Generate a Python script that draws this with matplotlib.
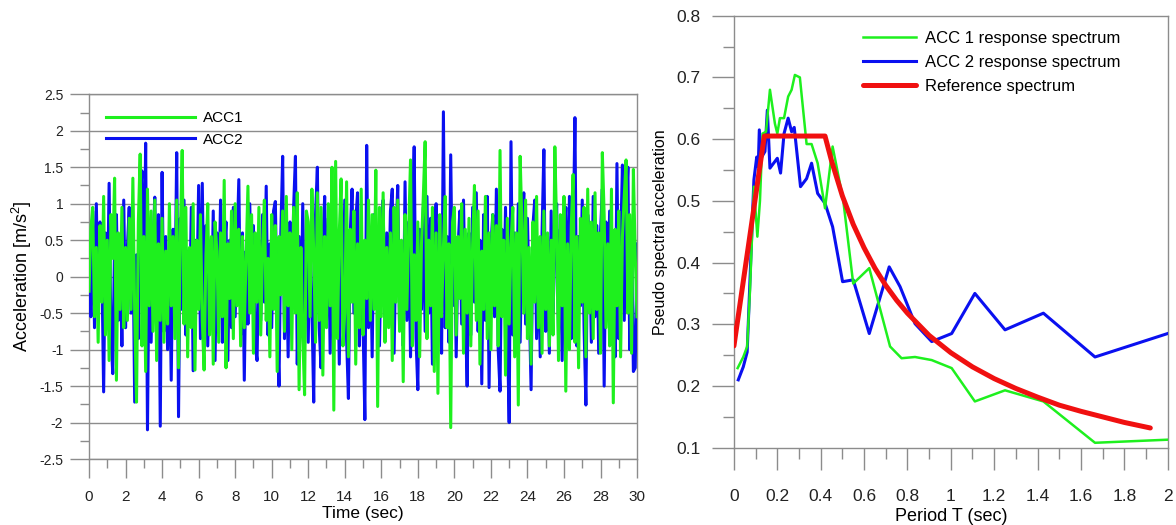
import matplotlib
matplotlib.use('Agg')
import matplotlib.pyplot as plt
import numpy as np
from matplotlib.ticker import MultipleLocator, FuncFormatter

plt.rcParams['font.family'] = ['Liberation Sans', 'DejaVu Sans']
plt.rcParams['mathtext.default'] = 'regular'

# 加速度时程 (dt = 0.1 s)
dt = 0.1
acc1 = [
    -0.20, 0.65, 0.95, -0.55, 0.40, -0.90, 0.70, -0.35, 1.10, -0.80,
    0.50, -1.15, 0.85, 0.25, 1.35, -1.42, 0.60, -0.45, 0.95, -0.70,
    0.40, -0.60, 0.80, -0.45, 1.35, -0.50, -1.72, 0.75, 1.68, -0.95,
    0.55, -1.30, 1.20, -0.40, 0.90, -0.75, 1.05, -1.15, 0.45, -0.60,
    0.80, -0.90, 0.35, -0.65, 1.00, -0.40, 0.55, -0.85, 1.05, -1.25,
    0.60, 1.73, -0.65, 0.95, -1.10, 0.40, -0.70, 1.00, -1.28, 0.50,
    -0.45, 0.85, -0.60, -1.28, 0.30, 1.00, -0.80, 0.55, -1.20, 0.75,
    0.35, -0.90, 0.60, -0.55, 1.32, -1.25, 0.45, -0.30, 0.90, -0.85,
    1.00, -0.40, 0.65, -0.95, 0.55, -0.70, 0.30, 1.24, -0.50, 0.85,
    -1.05, 0.60, -0.35, 0.95, -0.80, 0.40, 1.05, -0.60, 0.25, -1.10,
    0.85, -0.45, 0.70, -1.30, 0.55, -0.25, 0.90, -0.75, 1.10, -0.40,
    0.60, -1.00, 0.95, -0.50, 1.15, -1.55, 0.40, -0.80, -1.62, 0.90,
    0.75, -0.55, 1.20, 0.35, -0.90, 1.15, -0.60, 0.95, -1.35, 0.55,
    -0.70, 1.00, -0.40, 1.50, -1.83, 1.58, -0.85, 0.60, 1.34, -0.95,
    -0.50, 1.30, -1.10, 0.65, -0.35, 0.90, -1.20, 0.45, -0.70, 1.20,
    -0.80, 0.50, -0.30, 1.05, -0.60, 0.85, -0.45, 1.46, -1.78, 0.95,
    -0.55, 1.15, -0.90, 0.40, -0.70, 0.60, -1.15, 0.95, -0.35, 1.05,
    -0.75, 0.50, -1.44, 0.85, -0.45, 0.65, 1.60, -0.95, 0.30, -0.60,
    0.75, -1.10, 0.45, 1.10, 1.85, -0.85, 0.50, -0.40, 0.95, -1.30,
    0.60, -1.60, 0.85, -0.55, 0.40, 1.10, -0.70, 0.45, -2.07, 0.75,
    0.95, -0.80, 0.55, -0.30, 1.00, -1.05, 0.65, -0.50, 0.80, -0.95,
    0.45, 1.25, -0.60, 0.90, -1.20, 0.35, -0.45, 1.10, -0.85, 0.60,
    -1.00, 0.85, -0.40, 0.70, -0.95, 1.73, -0.55, 0.50, -1.35, 0.80,
    -0.65, 0.45, 0.95, -1.10, 0.60, -1.76, 1.65, 0.70, -0.50, 1.05,
    -0.85, 0.40, -1.20, 0.75, -0.35, 1.10, -0.70, 0.55, -1.05, 0.90,
    -0.45, 0.60, -0.95, 0.50, -0.80, 1.78, 0.65, -1.15, 0.85, -0.40,
    1.10, -1.57, 0.45, -1.00, 0.70, 1.40, -0.90, 0.55, -1.25, 0.80,
    -0.35, 0.95, -1.10, 1.20, -0.50, 0.75, -0.85, 1.15, -0.45, 0.60,
    -1.05, 1.70, 0.85, -0.70, 0.45, -0.95, 1.20, -1.73, 0.65, -0.40,
    0.90, -1.10, 0.55, 1.10, 1.60, -0.50, 0.85, -1.05, 1.47, 0.30, -0.55,
]
acc2 = [
    0.10, -0.55, 0.90, -0.70, 1.00, -0.40, 0.75, 0.20, -1.58, 0.60,
    -0.45, 1.28, -0.80, -1.33, 0.50, 0.85, -0.60, 0.30, -0.95, 1.05,
    -0.70, 0.40, 0.95, -0.50, 0.60, -1.72, 0.30, -0.85, 1.00, 1.45,
    -0.60, 1.83, -2.10, 0.70, -0.90, 0.40, 1.09, -0.50, 0.85, -2.05,
    1.43, -0.75, 0.55, -1.00, 0.30, -1.42, 0.65, -0.40, 1.70, -1.92,
    0.80, -0.45, 1.05, -0.80, 0.35, -0.60, 0.95, -1.29, 0.50, -0.30,
    1.25, -0.85, 1.28, -0.55, 0.70, -0.95, 0.40, -0.65, 0.90, -1.15,
    0.60, -0.40, 1.05, -0.90, 0.30, 0.75, -1.15, 0.50, -0.70, 0.95,
    -0.55, 0.40, 1.33, -0.80, 0.60, -1.42, 0.35, -0.65, 1.00, -0.45,
    0.70, -0.95, -1.15, 0.50, -0.60, 0.85, -0.35, 1.24, -0.80, 0.45,
    -0.70, 0.90, 1.03, -0.55, -1.50, 0.60, 1.65, -0.85, 0.40, -1.10,
    0.75, -0.45, 0.95, 1.65, -1.20, 0.55, -0.80, 1.00, -0.60, 0.35,
    -0.90, 0.65, -0.40, -1.72, 0.85, 1.50, -0.70, -1.25, 0.45, 1.10,
    -0.60, 0.80, -1.05, 0.35, 0.95, -0.75, 0.50, -1.20, 0.70, -0.45,
    1.05, -0.85, -1.67, 0.60, 1.20, -0.50, 0.75, 1.15, -0.95, 0.40,
    -0.65, -1.96, 1.80, -0.70, 0.55, -1.10, 0.85, -0.40, 0.65, -0.95,
    0.45, 1.05, -0.80, 0.60, -0.35, 0.90, 1.20, -1.05, 0.50, 1.25,
    -0.70, 0.40, -0.95, 1.30, -0.60, 0.75, -1.10, 0.55, 1.78, -0.85,
    -1.55, 0.65, -0.45, 0.95, -0.75, 1.10, -0.50, 0.80, -1.20, 0.35,
    1.00, -0.60, 0.45, -1.05, 2.26, -0.70, 0.55, -0.90, 1.67, -0.40,
    0.75, -1.10, 0.40, 0.90, -0.65, 1.05, -0.45, -1.50, 0.60, -0.80,
    0.95, -0.35, 1.15, -0.75, 0.50, -1.47, 0.85, -0.60, 1.10, -1.52,
    0.40, 0.85, -0.55, 1.20, -1.00, -1.57, 0.65, -0.40, 0.95, -0.70,
    -2.00, 1.85, -0.80, 0.60, -0.45, 1.00, -0.90, 0.50, 1.15, -0.65,
    0.80, -0.40, -1.55, 0.70, 1.05, -0.85, 0.45, -1.10, 0.60, 1.74,
    -0.75, 0.55, -1.05, 0.90, -0.50, 0.35, 1.00, -0.80, 0.65, -1.15,
    0.50, 0.95, -0.60, 1.10, -0.85, 0.40, 2.18, -0.95, 0.55, -0.40,
    1.05, -0.70, -1.76, 0.85, 0.45, -0.90, 1.10, -0.55, 0.70, -1.05,
    0.60, 1.20, -1.50, 0.75, -0.45, 0.90, -0.70, 0.50, -1.10, 1.55,
    -0.85, 0.40, 1.53, -0.60, 0.90, 1.50, -1.00, 0.55, -1.30, -1.25, 0.45,
]

# 反应谱
T1 = [0.017, 0.043, 0.061, 0.074, 0.092, 0.108, 0.120, 0.132, 0.148, 0.166,
      0.189, 0.200, 0.212, 0.231, 0.250, 0.266, 0.281, 0.304, 0.335, 0.358,
      0.386, 0.420, 0.455, 0.504, 0.550, 0.624, 0.720, 0.773, 0.835, 0.912,
      1.004, 1.111, 1.250, 1.427, 1.665, 2.000]
Sa1 = [0.229, 0.247, 0.264, 0.355, 0.523, 0.442, 0.500, 0.609, 0.612, 0.680,
       0.625, 0.609, 0.634, 0.634, 0.669, 0.680, 0.704, 0.700, 0.592, 0.592,
       0.561, 0.488, 0.588, 0.501, 0.366, 0.391, 0.264, 0.245, 0.247, 0.242,
       0.229, 0.175, 0.193, 0.175, 0.108, 0.113]
T2 = [0.020, 0.043, 0.061, 0.092, 0.105, 0.112, 0.117, 0.128, 0.143, 0.154,
      0.166, 0.200, 0.215, 0.231, 0.250, 0.266, 0.278, 0.307, 0.335, 0.358,
      0.386, 0.420, 0.455, 0.501, 0.550, 0.624, 0.716, 0.766, 0.835, 0.912,
      1.004, 1.111, 1.250, 1.427, 1.665, 2.000]
Sa2 = [0.210, 0.231, 0.255, 0.534, 0.571, 0.555, 0.615, 0.571, 0.580, 0.647,
       0.553, 0.569, 0.545, 0.609, 0.634, 0.612, 0.619, 0.523, 0.536, 0.561,
       0.512, 0.496, 0.458, 0.369, 0.372, 0.285, 0.393, 0.361, 0.301, 0.272,
       0.285, 0.350, 0.291, 0.318, 0.247, 0.285]
T_ref = [0.0, 0.14, 0.42, 0.45, 0.50, 0.55, 0.60, 0.65, 0.70, 0.75, 0.80, 0.90,
         1.00, 1.10, 1.20, 1.30, 1.40, 1.50, 1.60, 1.70, 1.80, 1.92]
Sa_ref = [0.265, 0.605, 0.605, 0.565, 0.508, 0.462, 0.424, 0.391, 0.363, 0.339,
          0.318, 0.282, 0.254, 0.231, 0.212, 0.196, 0.182, 0.169, 0.159, 0.150,
          0.141, 0.132]

green = '#1ef01e'
blue = '#0a10f0'
red = '#f01010'
grey = '#8c8c8c'
fmt = FuncFormatter(lambda v, p: '%g' % round(v, 2))


def styleAxes(ax):
    for s in ax.spines.values():
        s.set_color(grey)
        s.set_linewidth(1)
    ax.tick_params(which='both', direction='out', color=grey, width=1, labelcolor='#222222')


fig = plt.figure(figsize=(11.76, 5.25), dpi=100)

# 左图: 时程
ax1 = fig.add_axes([0.0757, 0.1257, 0.466, 0.6947])
t = np.arange(len(acc1)) * dt
ax1.plot(t, acc2, c=blue, lw=2.2, label='ACC2', zorder=3)
ax1.plot(t, acc1, c=green, lw=2.2, label='ACC1', zorder=4)
ax1.set_xlim(0, 30)
ax1.set_ylim(-2.5, 2.5)
ax1.xaxis.set_major_locator(MultipleLocator(2))
ax1.xaxis.set_minor_locator(MultipleLocator(1))
ax1.yaxis.set_major_locator(MultipleLocator(0.5))
ax1.yaxis.set_minor_locator(MultipleLocator(0.25))
ax1.xaxis.set_major_formatter(fmt)
ax1.yaxis.set_major_formatter(fmt)
ax1.grid(axis='y', which='major', color=grey, lw=1)
styleAxes(ax1)
ax1.tick_params(which='major', length=13.5)
ax1.tick_params(which='minor', length=6.5)
ax1.tick_params(axis='y', pad=5, labelsize=10)
ax1.tick_params(axis='x', pad=9, labelsize=11)
ax1.set_xlabel('Time (sec)', fontsize=12.5, labelpad=1)
ax1.set_ylabel('Acceleration [m/s$^2$]', fontsize=13)
ax1.yaxis.set_label_coords(-0.100, 0.5)
h, l = ax1.get_legend_handles_labels()
ax1.legend(h[::-1], l[::-1], loc='upper left', bbox_to_anchor=(0.031, 0.954), frameon=False,
           fontsize=11, handlelength=5.8, handletextpad=0.52, labelspacing=0.5,
           borderpad=0, borderaxespad=0)

# 右图: 反应谱
ax2 = fig.add_axes([0.6241, 0.1472, 0.3688, 0.8229])
ax2.plot(T2, Sa2, c=blue, lw=2.2, label='ACC 2 response spectrum', zorder=3)
ax2.plot(T1, Sa1, c=green, lw=1.8, label='ACC 1 response spectrum', zorder=4)
ax2.plot(T_ref, Sa_ref, c=red, lw=3.6, label='Reference spectrum', zorder=5,
         solid_capstyle='round')
ax2.set_xlim(0, 2)
ax2.set_ylim(0.1, 0.8)
ax2.xaxis.set_major_locator(MultipleLocator(0.2))
ax2.xaxis.set_minor_locator(MultipleLocator(0.1))
ax2.yaxis.set_major_locator(MultipleLocator(0.1))
ax2.yaxis.set_minor_locator(MultipleLocator(0.05))
ax2.xaxis.set_major_formatter(fmt)
ax2.yaxis.set_major_formatter(fmt)
styleAxes(ax2)
ax2.tick_params(which='major', length=15.5, labelsize=12.5)
ax2.tick_params(which='minor', length=8)
ax2.tick_params(axis='y', pad=8.5)
ax2.tick_params(axis='x', pad=14)
ax2.set_xlabel('Period T (sec)', fontsize=13, labelpad=3)
ax2.set_ylabel('Pseudo spectral acceleration', fontsize=11.5)
ax2.yaxis.set_label_coords(-0.152, 0.5)
h, l = ax2.get_legend_handles_labels()
ax2.legend([h[1], h[0], h[2]], [l[1], l[0], l[2]], loc='upper left',
           bbox_to_anchor=(0.297, 0.964), frameon=False, fontsize=12,
           handlelength=3.2, handletextpad=0.54, labelspacing=0.53,
           borderpad=0, borderaxespad=0)

plt.savefig('out.png', dpi=100)
